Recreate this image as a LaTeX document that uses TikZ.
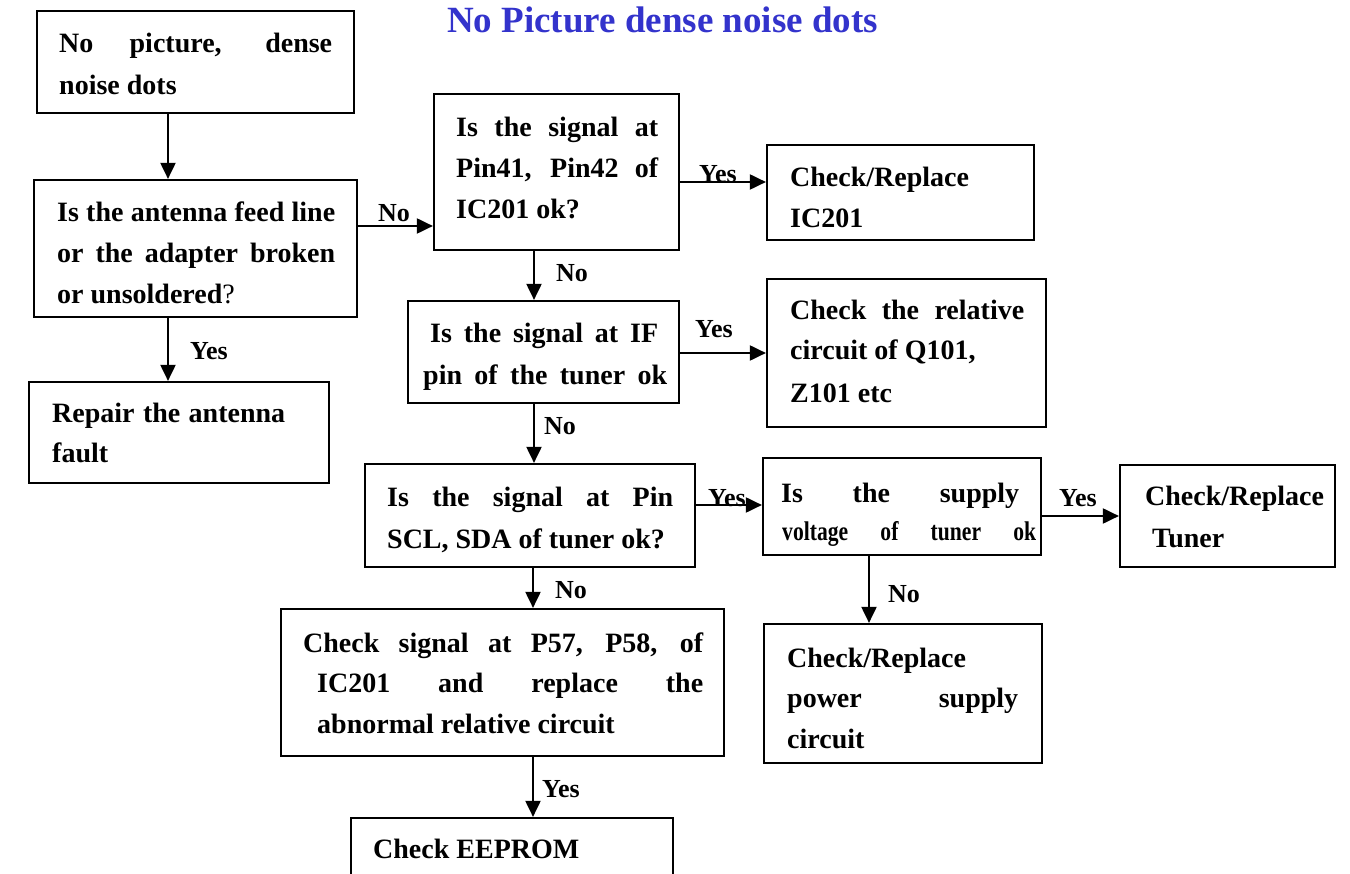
\documentclass[tikz,border=0pt]{standalone}
\usepackage{fontspec}
\setmainfont{Liberation Serif}
\newfontfamily\narrowserif[FakeStretch=0.8]{Liberation Serif Bold}
\usetikzlibrary{arrows.meta,fit}
\definecolor{titleblue}{RGB}{51,51,204}
% justified line of a given width
\newcommand{\jline}[2]{\makebox[#1pt][s]{#2}}
\begin{document}
\begin{tikzpicture}[x=1pt,y=-1pt,
  box/.style={draw, line width=2.2pt, inner sep=0pt},
  txt/.style={anchor=base west, inner sep=0pt, font=\fontsize{28}{34}\selectfont\bfseries},
  narrowtxt/.style={anchor=base west, inner sep=0pt, font=\narrowserif\fontsize{27}{30}\selectfont},
  lbl/.style={anchor=base west, inner sep=0pt, font=\fontsize{26}{30}\selectfont\bfseries},
  arr/.style={line width=2pt, -{Triangle[length=16pt,width=15pt]}}]

\clip (0,0) rectangle (1350,874);
\fill[white] (0,0) rectangle (1350,874);

% title
\node[anchor=base west, inner sep=0pt, text=titleblue,
      font=\fontsize{37}{40}\selectfont\bfseries] (title) at (447,33) {No Picture dense noise dots};

% boxes
\node[box, fit={(37,11)(354,113)}]   (A) {};
\node[box, fit={(34,180)(357,317)}]  (B) {};
\node[box, fit={(29,382)(329,483)}]  (C) {};
\node[box, fit={(434,94)(679,250)}]  (D) {};
\node[box, fit={(408,301)(679,403)}] (E) {};
\node[box, fit={(365,464)(695,567)}] (F) {};
\node[box, fit={(763,458)(1041,555)}] (G) {};
\node[box, fit={(1120,465)(1335,567)}] (H) {};
\node[box, fit={(767,145)(1034,240)}] (I) {};
\node[box, fit={(767,279)(1046,427)}] (J) {};
\node[box, fit={(764,624)(1042,763)}] (K) {};
\node[box, fit={(281,609)(724,756)}]  (L) {};
\node[box, fit={(351,818)(673,900)}]  (M) {};

% box texts
\node[txt] (tA1) at (59,53) {\jline{273}{No picture, dense}};
\node[txt] (tA2) at (59,95) {noise dots};

\node[txt] (tB1) at (57,222) {\jline{278}{Is the antenna feed line}};
\node[txt] (tB2) at (57,263) {\jline{278}{or the adapter broken}};
\node[txt] (tB3) at (57,304) {or unsoldered{\mdseries ?}};

\node[txt] (tC1) at (52,423) {\jline{233}{Repair the antenna}};
\node[txt] (tC2) at (52,463) {fault};

\node[txt] (tD1) at (456,137) {\jline{202}{Is the signal at}};
\node[txt] (tD2) at (456,178) {\jline{202}{Pin41, Pin42 of}};
\node[txt] (tD3) at (456,219) {IC201 ok?};

\node[txt] (tE1) at (430,343) {\jline{228}{Is the signal at IF}};
\node[txt] (tE2) at (423,385) {\jline{244}{pin of the tuner ok}};

\node[txt] (tF1) at (387,507) {\jline{286}{Is the signal at Pin}};
\node[txt] (tF2) at (387,548) {SCL, SDA of tuner ok?};

\node[txt] (tG1) at (781,502) {\jline{238}{Is the supply}};
\node[narrowtxt] (tG2) at (782,540) {\jline{254}{voltage of tuner ok}};

\node[txt] (tH1) at (1145,505) {Check/Replace};
\node[txt] (tH2) at (1152,547) {Tuner};

\node[txt] (tI1) at (790,187) {Check/Replace};
\node[txt] (tI2) at (790,228) {IC201};

\node[txt] (tJ1) at (790,320) {\jline{234}{Check the relative}};
\node[txt] (tJ2) at (790,360) {circuit of Q101,};
\node[txt] (tJ3) at (790,403) {Z101 etc};

\node[txt] (tK1) at (787,667) {Check/Replace};
\node[txt] (tK2) at (787,707) {\jline{231}{power supply}};
\node[txt] (tK3) at (787,748) {circuit};

\node[txt] (tL1) at (303,652) {\jline{400}{Check signal at P57, P58, of}};
\node[txt] (tL2) at (317,692) {\jline{386}{IC201 and replace the}};
\node[txt] (tL3) at (317,733) {abnormal relative circuit};

\node[txt] (tM1) at (373,858) {Check EEPROM};

% connector guide positions
\coordinate (xAB) at (168,0);
\coordinate (yBD) at (0,226);
\coordinate (xDE) at (534,0);
\coordinate (yDI) at (0,182);
\coordinate (yEJ) at (0,353);
\coordinate (yFG) at (0,505);
\coordinate (yGH) at (0,516);
\coordinate (xGK) at (869,0);
\coordinate (xFL) at (533,0);

% connectors
\draw[arr] (A.south -| xAB) -- (B.north -| xAB);
\draw[arr] (B.south -| xAB) -- (C.north -| xAB);
\draw[arr] (B.east |- yBD) -- (D.west |- yBD);
\draw[arr] (D.east |- yDI) -- (I.west |- yDI);
\draw[arr] (D.south -| xDE) -- (E.north -| xDE);
\draw[arr] (E.east |- yEJ) -- (J.west |- yEJ);
\draw[arr] (E.south -| xDE) -- (F.north -| xDE);
\draw[arr] (F.east |- yFG) -- (G.west |- yFG);
\draw[arr] (G.east |- yGH) -- (H.west |- yGH);
\draw[arr] (G.south -| xGK) -- (K.north -| xGK);
\draw[arr] (F.south -| xFL) -- (L.north -| xFL);
\draw[arr] (L.south -| xFL) -- (M.north -| xFL);

% connector labels
\node[lbl] (lBC) at (190,360) {Yes};
\node[lbl] (lBD) at (378,222) {No};
\node[lbl] (lDE) at (556,282) {No};
\node[lbl] (lDI) at (699,183) {Yes};
\node[lbl] (lEJ) at (695,338) {Yes};
\node[lbl] (lEF) at (544,435) {No};
\node[lbl] (lFG) at (708,506) {Yes};
\node[lbl] (lGH) at (1059,507) {Yes};
\node[lbl] (lGK) at (888,602) {No};
\node[lbl] (lFL) at (555,598) {No};
\node[lbl] (lLM) at (542,797) {Yes};
\end{tikzpicture}
\end{document}
